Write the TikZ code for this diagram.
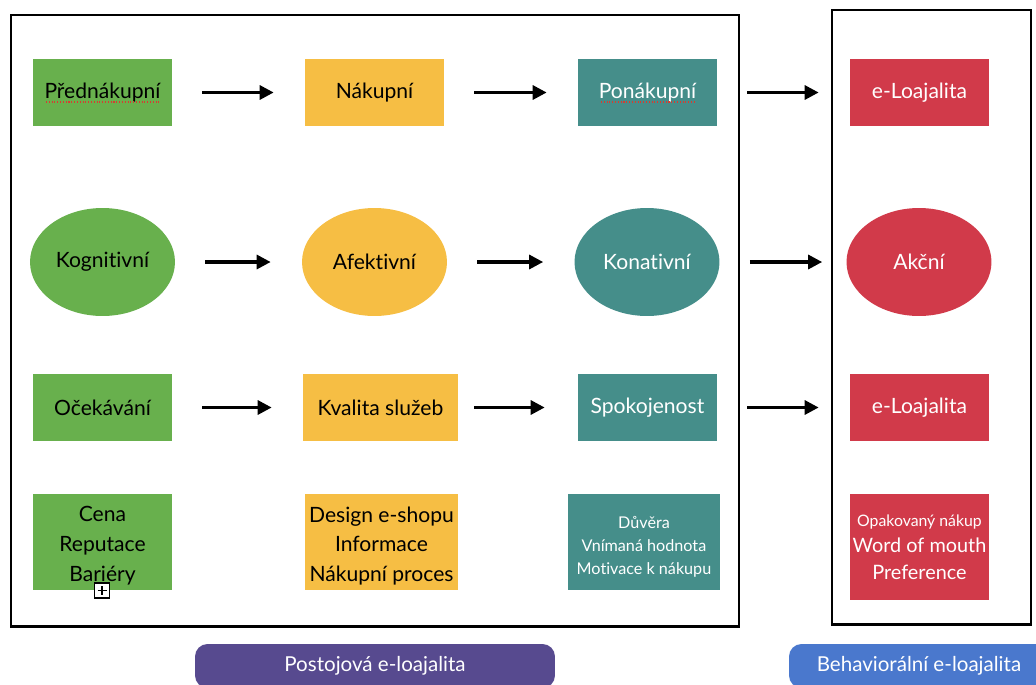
\documentclass[tikz,border=0pt]{standalone}
\usepackage{fontspec}
\setmainfont{Lato}[Ligatures=NoCommon]
\usetikzlibrary{arrows.meta,shapes.geometric}

\definecolor{zelena}{RGB}{104,176,77}
\definecolor{zluta}{RGB}{246,190,68}
\definecolor{tyrkys}{RGB}{69,142,138}
\definecolor{cervena}{RGB}{209,58,74}
\definecolor{fialova}{RGB}{87,74,143}
\definecolor{modra}{RGB}{74,120,205}
\definecolor{podtrh}{RGB}{214,60,50}

\tikzset{
  krok/.style={rectangle, minimum width=2.78cm, minimum height=1.34cm, inner sep=0pt, font=\fontsize{12}{14}\selectfont, align=center},
  faze/.style={ellipse, minimum width=2.9cm, minimum height=2.16cm, inner sep=0pt, font=\fontsize{12}{14}\selectfont},
  popis/.style={inner sep=0pt, align=center, font=\fontsize{12}{17}\selectfont},
  sipka/.style={-{Triangle[length=0.28cm, width=0.28cm]}, line width=1.8pt, shorten <=0.6cm, shorten >=0.62cm},
  ramec/.style={black, line width=1.7pt},
  pruh/.style={rounded corners=0.25cm, minimum height=0.88cm, inner sep=0pt, text=white, font=\fontsize{11.7}{13}\selectfont}
}

\begin{document}
\begin{tikzpicture}[x=0.02cm, y=-0.02cm]
\useasboundingbox (0,0) rectangle (1036,684);
\clip (0,0) rectangle (1036,684);
\draw[ramec] (11,15) rectangle (739,626);
\draw[ramec] (832,10) rectangle (1031,624);

\node[krok, fill=zelena] (pred) at (102.5,92.5) {Přednákupní};
\node[krok, fill=zluta] (nak) at (374.5,92.5) {Nákupní};
\node[krok, fill=tyrkys, text=white] (po) at (647.5,92.5) {Ponákupní};
\node[krok, fill=cervena, text=white] (loaj1) at (919.5,92.5) {e-Loajalita};

\node[faze, fill=zelena] (kog) at (102.5,262) {Kognitivní};
\node[faze, fill=zluta] (afe) at (374.5,262) {Afektivní};
\node[faze, fill=tyrkys, text=white] (kon) at (647,262) {Konativní};
\node[faze, fill=cervena, text=white] (akc) at (919,262) {Akční};

\node[krok, fill=zelena] (oce) at (102.5,407.5) {Očekávání};
\node[krok, fill=zluta, minimum width=3.1cm] (kva) at (380.5,407.5) {Kvalita služeb};
\node[krok, fill=tyrkys, text=white] (spo) at (647.5,407.5) {Spokojenost};
\node[krok, fill=cervena, text=white] (loaj2) at (919.5,407.5) {e-Loajalita};

\node[krok, fill=zelena, minimum height=1.92cm] (cena) at (102.5,542) {};
\node[popis] (cenaText) at ([yshift=-0.08cm]cena.center) {Cena\\Reputace\\Bariéry};
\node[krok, fill=zluta, minimum width=3.06cm, minimum height=1.92cm] (design) at (381.5,542) {};
\node[popis] (designText) at ([yshift=-0.08cm]design.center) {Design e-shopu\\Informace\\Nákupní proces};
\node[krok, fill=tyrkys, minimum width=3.04cm, minimum height=1.92cm] (duvera) at (644,542) {};
\node[popis, text=white, font=\fontsize{9.2}{13}\selectfont] (duveraText) at ([yshift=-0.09cm]duvera.center) {Důvěra\\Vnímaná hodnota\\Motivace k nákupu};
\node[krok, fill=cervena, text=white, minimum height=2.12cm, font=\fontsize{11.3}{14}\selectfont] (opak) at (919.5,547) {{\fontsize{9}{13}\selectfont Opakovaný nákup}\\[1pt]Word of mouth\\[1pt]Preference};

\draw[podtrh, densely dotted, line width=0.6pt] (46,102) -- (160,102);
\draw[podtrh, densely dotted, line width=0.6pt] (601,102) -- (694,102);
\draw[fill=white, line width=0.7pt] (94.5,583) rectangle (109.5,598);
\draw[line width=0.7pt] (97.5,590.5) -- (106.5,590.5) (102,586) -- (102,595);

\draw[sipka] (pred) -- (nak);
\draw[sipka] (nak) -- (po);
\draw[sipka] (po) -- (loaj1);
\draw[sipka] (kog) -- (afe);
\draw[sipka] (afe) -- (kon);
\draw[sipka, shorten >=0.48cm] (kon) -- (akc);
\draw[sipka] (oce) -- (kva);
\draw[sipka, shorten <=0.32cm, shorten >=0.66cm] (kva) -- (spo);
\draw[sipka] (spo) -- (loaj2);

\node[pruh, fill=fialova, minimum width=7.2cm] (postoj) at (375,666) {Postojová e-loajalita};
\node[pruh, fill=modra, minimum width=5.2cm] (behav) at (919,666) {Behaviorální e-loajalita};
\end{tikzpicture}
\end{document}
